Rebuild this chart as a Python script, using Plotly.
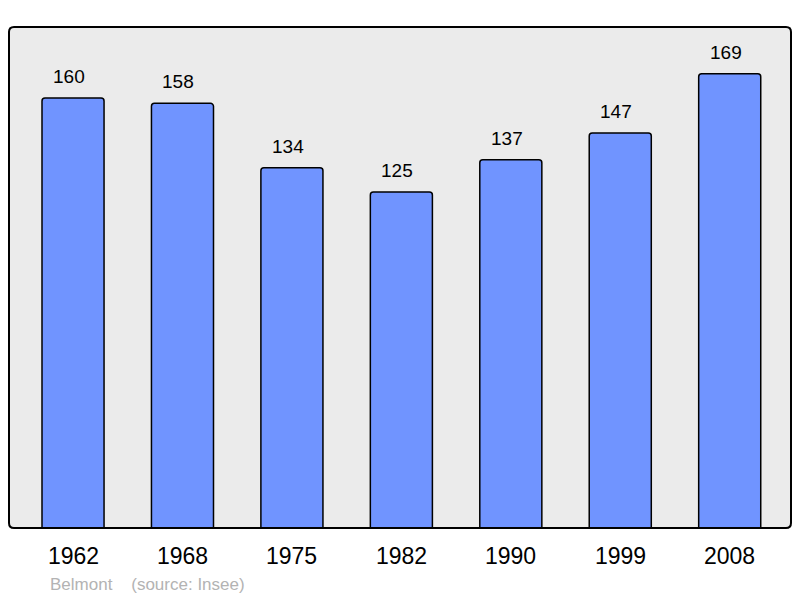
import plotly.graph_objects as go

years = ["1962", "1968", "1975", "1982", "1990", "1999", "2008"]
population = [160, 158, 134, 125, 137, 147, 169]
caption = "Belmont    (source: Insee)"

xs = list(range(len(years)))
fig = go.Figure(go.Bar(
    x=xs, y=population, width=0.567,
    marker=dict(color="#7094ff", line=dict(color="#000000", width=1.5), cornerradius=3),
    hoverinfo="skip",
))

FONT = "Liberation Sans"
ann = []
for i, (yr, v) in enumerate(zip(years, population)):
    ann.append(dict(x=i, y=v, text=str(v), showarrow=False, yanchor="bottom", yshift=9, xshift=-4,
                    font=dict(size=19, color="#000000", family=FONT)))
    ann.append(dict(x=i, y=0, yref="y", text=yr, showarrow=False, yanchor="middle", yshift=-28,
                    font=dict(size=23, color="#000000", family=FONT)))
ann.append(dict(x=(48 - 9) / 782, xref="paper", y=0, yref="paper", text=caption, showarrow=False,
                xanchor="left", yanchor="middle", yshift=-56,
                font=dict(size=17, color="#b3b3b3", family=FONT)))

# rounded frame path in paper units
W, H = 782.0, 501.0
rx, ry = 5 / W, 5 / H
frame = (f"M {rx},0 L {1-rx},0 Q 1,0 1,{ry} L 1,{1-ry} Q 1,1 {1-rx},1 "
         f"L {rx},1 Q 0,1 0,{1-ry} L 0,{ry} Q 0,0 {rx},0 Z")

fig.update_layout(
    width=800, height=598,
    margin=dict(l=9, r=9, t=27, b=70),
    paper_bgcolor="#ffffff", plot_bgcolor="#ebebeb",
    xaxis=dict(range=[-0.585, 6.56], showgrid=False, zeroline=False, showticklabels=False, fixedrange=True),
    yaxis=dict(range=[0, 186.4], showgrid=False, zeroline=False, showticklabels=False, fixedrange=True),
    showlegend=False,
    annotations=ann,
    shapes=[dict(type="path", xref="paper", yref="paper", path=frame,
                 line=dict(color="#000000", width=2), layer="above")],
)
fig.write_html("out.html", config={"displayModeBar": False},
               post_script="document.body.style.margin='0px';document.body.style.overflow='hidden';")
